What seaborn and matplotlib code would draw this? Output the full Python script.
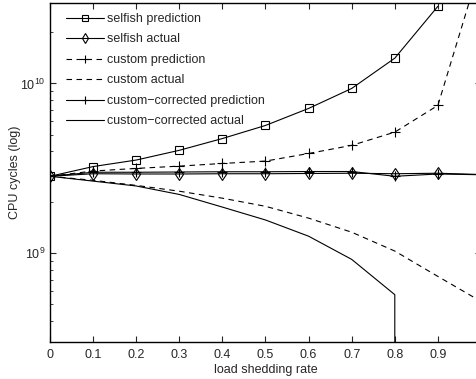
import numpy as np
import pandas as pd
import matplotlib
matplotlib.use("Agg")
import matplotlib.pyplot as plt
from matplotlib.ticker import LogLocator, NullFormatter
import seaborn as sns

# ---- data ----
rate = [0.0, 0.1, 0.2, 0.3, 0.4, 0.5, 0.6, 0.7, 0.8, 0.9]
rate_ext = rate + [1.0]

selfish_pred = [2.84e9, 3.24e9, 3.54e9, 4.04e9, 4.74e9, 5.66e9, 7.13e9, 9.35e9, 1.41e10, 2.85e10]
selfish_actual = [2.84e9, 2.94e9, 2.93e9, 2.93e9, 2.94e9, 2.94e9, 2.95e9, 2.96e9, 2.94e9, 2.96e9, 2.91e9]
custom_pred = [2.84e9, 3.05e9, 3.16e9, 3.26e9, 3.38e9, 3.49e9, 3.87e9, 4.32e9, 5.17e9, 7.43e9, 5.1e10]
custom_actual = [2.84e9, 2.69e9, 2.51e9, 2.32e9, 2.11e9, 1.89e9, 1.61e9, 1.33e9, 1.03e9, 7.3e8, 5.2e8]
cc_pred = [2.84e9, 3.0e9, 3.0e9, 3.01e9, 3.02e9, 3.02e9, 3.03e9, 3.03e9, 2.84e9, 2.93e9, 2.9e9]
cc_actual_rate = [0.0, 0.1, 0.2, 0.3, 0.4, 0.5, 0.6, 0.7, 0.8, 0.8]
cc_actual = [2.84e9, 2.66e9, 2.49e9, 2.22e9, 1.87e9, 1.57e9, 1.26e9, 9.2e8, 5.7e8, 1.0e5]

labels = ["selfish prediction", "selfish actual", "custom prediction",
          "custom actual", "custom\u2212corrected prediction", "custom\u2212corrected actual"]

sns.set_style("ticks")
plt.rcParams["font.family"] = ["Liberation Sans", "DejaVu Sans"]
plt.rcParams["mathtext.fontset"] = "custom"
plt.rcParams["mathtext.rm"] = "Liberation Sans"
plt.rcParams["mathtext.it"] = "Liberation Sans:italic"
plt.rcParams["font.size"] = 9

fig = plt.figure(figsize=(4.77, 3.79), dpi=100)
ax = fig.add_axes([50/477, 1 - 342/379, 431/477, 339.5/379])

series = [
    (rate, selfish_pred, dict(marker="s", linestyle="-", markersize=5.5)),
    (rate_ext, selfish_actual, dict(marker="d", linestyle="-", markersize=6.5)),
    (rate_ext, custom_pred, dict(marker="+", linestyle=(0, (5, 4)), markersize=7)),
    (rate_ext, custom_actual, dict(marker=None, linestyle=(0, (5, 4)))),
    (rate_ext, cc_pred, dict(marker="+", linestyle="-", markersize=7)),
    (cc_actual_rate, cc_actual, dict(marker=None, linestyle="-")),
]

for (xs, ys, st), lab in zip(series, labels):
    df = pd.DataFrame({"x": xs, "y": ys})
    sns.lineplot(data=df, x="x", y="y", ax=ax, color="black", linewidth=0.8,
                 estimator=None, sort=False, label=lab,
                 markerfacecolor="none", markeredgecolor="black", markeredgewidth=0.8,
                 **st)

ax.set_yscale("log")
ax.set_xlim(0, 1.0)
ax.set_ylim(3e8, 3e10)
ax.set_xticks([0, 0.1, 0.2, 0.3, 0.4, 0.5, 0.6, 0.7, 0.8, 0.9])
ax.set_xticklabels(["0", "0.1", "0.2", "0.3", "0.4", "0.5", "0.6", "0.7", "0.8", "0.9"])
ax.yaxis.set_major_locator(LogLocator(base=10))
ax.yaxis.set_minor_locator(LogLocator(base=10, subs=np.arange(2, 10)))
ax.yaxis.set_minor_formatter(NullFormatter())
ax.tick_params(axis="both", which="both", direction="in", top=True, right=True, labelsize=9)
ax.tick_params(axis="both", which="major", length=4, width=0.8)
ax.tick_params(axis="x", which="major", pad=5)
ax.tick_params(axis="y", which="minor", length=2, width=0.6)
for s in ax.spines.values():
    s.set_linewidth(1.0)
    s.set_color("black")

ax.set_xlabel("load shedding rate", fontsize=9, labelpad=2)
ax.set_ylabel("CPU cycles (log)", fontsize=9, labelpad=-1)

ax.legend(loc="upper left", frameon=False, fontsize=9, handlelength=3.0,
          labelspacing=0.68, bbox_to_anchor=(0.017, 0.995), borderaxespad=0.3,
          handletextpad=0.3, markerscale=0.75)

fig.savefig("out.png", dpi=100)
